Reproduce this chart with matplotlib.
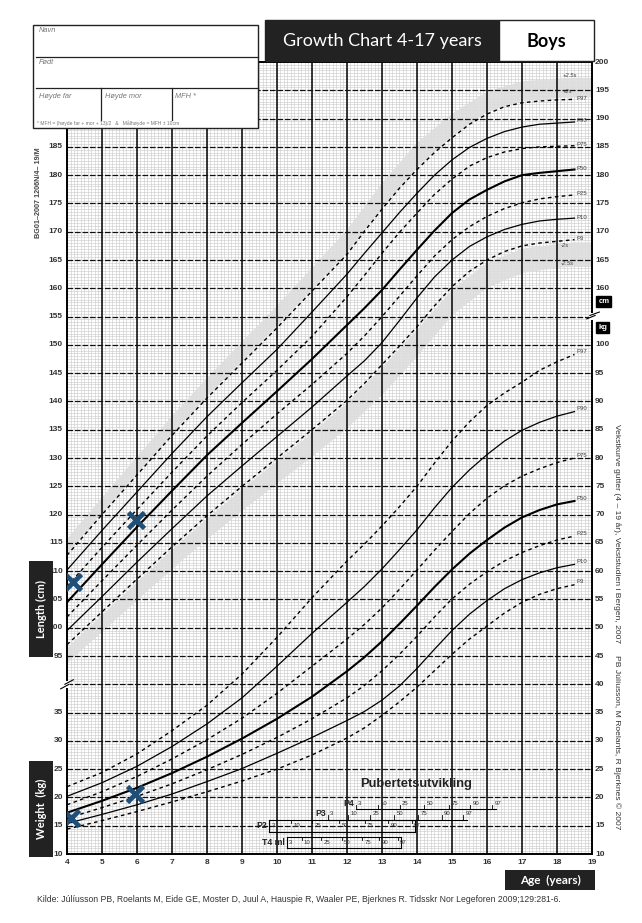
import numpy as np
import matplotlib
matplotlib.use("Agg")
import matplotlib.pyplot as plt
from matplotlib.patches import Rectangle
import matplotlib.transforms as mtransforms

# ---------------- data ----------------
ages = [4, 5, 6, 7, 8, 9, 10, 11, 12, 12.5, 13, 13.5, 14, 14.5, 15, 15.5, 16, 16.5, 17, 17.5, 18, 18.5]

# height percentiles (cm)
h_p3 = [97.0, 102.8, 108.6, 114.3, 119.8, 125.0, 130.0, 135.0, 140.2, 143.2, 146.5, 149.8, 153.2, 156.9, 160.3, 163.0, 165.0, 166.5, 167.5, 168.0, 168.3, 168.6]
h_p10 = [99.5, 105.5, 111.6, 117.5, 123.3, 128.6, 133.8, 139.0, 144.5, 147.2, 150.4, 154.3, 158.3, 162.0, 165.0, 167.4, 169.1, 170.4, 171.3, 171.9, 172.2, 172.4]
h_p25 = [101.9, 108.3, 114.6, 120.8, 126.8, 132.4, 137.8, 143.0, 148.5, 151.6, 155.0, 158.6, 162.2, 165.7, 168.6, 170.9, 172.7, 174.1, 175.1, 175.8, 176.2, 176.5]
h_p50 = [104.5, 111.2, 117.8, 124.2, 130.5, 136.2, 141.8, 147.5, 153.5, 156.5, 159.7, 163.3, 166.8, 170.2, 173.3, 175.7, 177.4, 178.9, 180.0, 180.4, 180.7, 181.0]
h_p75 = [107.3, 114.2, 120.9, 127.5, 133.9, 139.8, 145.5, 151.5, 158.5, 162.3, 166.2, 169.9, 173.3, 176.6, 179.3, 181.6, 183.1, 184.1, 184.7, 185.0, 185.1, 185.2]
h_p90 = [110.2, 117.2, 124.0, 130.8, 137.3, 143.3, 149.2, 155.8, 162.5, 166.2, 169.8, 173.4, 176.8, 180.0, 182.7, 184.9, 186.5, 187.7, 188.5, 189.0, 189.2, 189.4]
h_p97 = [112.8, 120.0, 127.0, 134.0, 140.6, 146.8, 153.0, 159.5, 166.0, 170.1, 174.0, 177.7, 181.0, 184.0, 186.6, 189.0, 190.8, 192.1, 192.8, 193.1, 193.3, 193.4]

# SD bands (cm)
band_ages = [4, 5, 6, 7, 8, 9, 10, 11, 12, 13, 14, 15, 16, 17, 18, 18.5, 19]
up_lo = [113.2, 120.4, 127.4, 134.4, 141.0, 147.3, 153.5, 160.0, 166.5, 174.5, 181.5, 187.1, 191.3, 193.2, 193.7, 193.8, 193.8]
up_hi = [115.9, 123.2, 130.4, 137.6, 144.3, 150.7, 157.1, 163.8, 170.5, 178.8, 185.9, 191.0, 194.9, 196.7, 197.2, 197.3, 197.3]
lo_hi = [96.6, 102.4, 108.2, 113.9, 119.4, 124.6, 129.6, 134.6, 139.8, 146.1, 152.8, 159.9, 164.6, 167.1, 167.9, 168.2, 168.2]
lo_lo = [93.9, 99.4, 105.0, 110.5, 115.8, 120.8, 125.6, 130.4, 135.4, 141.3, 148.1, 155.4, 160.2, 162.8, 163.7, 164.0, 164.0]

# weight percentiles (kg)
w_p3 = [14.4, 15.9, 17.5, 19.2, 21.0, 22.9, 25.0, 27.5, 30.5, 32.3, 34.5, 36.9, 39.5, 42.4, 45.3, 48.0, 50.3, 52.6, 54.5, 55.9, 56.9, 57.6]
w_p10 = [15.4, 17.0, 18.7, 20.6, 22.8, 25.1, 27.8, 30.6, 33.6, 35.2, 37.2, 39.7, 42.8, 46.2, 49.5, 52.4, 54.8, 56.9, 58.5, 59.7, 60.6, 61.2]
w_p25 = [16.3, 18.2, 20.2, 22.4, 24.9, 27.6, 30.6, 33.9, 37.6, 39.8, 42.4, 45.3, 48.5, 51.9, 55.1, 57.7, 59.9, 61.8, 63.3, 64.5, 65.5, 66.2]
w_p50 = [17.3, 19.4, 21.7, 24.3, 27.2, 30.4, 33.9, 37.8, 42.3, 44.8, 47.6, 50.7, 53.9, 57.2, 60.3, 63.1, 65.5, 67.7, 69.5, 70.8, 71.8, 72.4]
w_p75 = [18.7, 21.0, 23.7, 26.8, 30.2, 34.0, 38.4, 43.2, 48.0, 50.6, 53.5, 56.8, 60.2, 63.7, 67.0, 70.2, 72.9, 75.1, 76.8, 78.1, 79.2, 80.0]
w_p90 = [20.2, 22.6, 25.5, 29.0, 33.0, 37.6, 43.2, 49.0, 54.5, 57.3, 60.4, 63.8, 67.3, 71.2, 74.8, 77.9, 80.6, 83.0, 84.9, 86.3, 87.4, 88.2]
w_p97 = [21.9, 24.4, 27.7, 31.8, 36.3, 41.8, 48.3, 55.3, 61.8, 64.8, 68.0, 71.4, 75.0, 79.1, 83.0, 86.4, 89.3, 91.5, 93.4, 95.5, 97.0, 98.3]

pct_names = ["P3", "P10", "P25", "P50", "P75", "P90", "P97"]

# measurements
meas_h_age = [4.18, 5.97]
meas_h_cm = [108.1, 119.1]
meas_w_age = [4.12, 5.95]
meas_w_kg = [16.3, 20.6]

# axis labels
x_labels = list(range(4, 20))
left_kg = [10, 15, 20, 25, 30, 35]
left_cm = [95, 100, 105, 110, 115, 120, 125, 130, 135, 140, 145, 150, 155, 160, 165, 170, 175, 180, 185]
right_kg = [10, 15, 20, 25, 30, 35, 40, 45, 50, 55, 60, 65, 70, 75, 80, 85, 90, 95, 100]
right_cm = [160, 165, 170, 175, 180, 185, 190, 195, 200]

# puberty development
pub_pcts = ["3", "10", "25", "50", "75", "90", "97"]
pub_P4 = [12.25, 12.88, 13.5, 14.2, 14.92, 15.52, 16.15]
pub_P3 = [11.45, 12.03, 12.65, 13.35, 14.02, 14.7, 15.32]
pub_P2 = [9.78, 10.4, 11.0, 11.78, 12.5, 13.17, 13.85]
pub_T4 = [10.28, 10.7, 11.27, 11.85, 12.42, 12.92, 13.45]

CM_OFFSET = 50  # length (cm) is drawn 50 units above weight (kg)

# ---------------- figure ----------------
W, H = 642, 923
fig = plt.figure(figsize=(W / 100, H / 100), dpi=100)
fig.patch.set_facecolor("white")

def fx(px):
    return px / W

def fy(py):
    return 1 - py / H

ax = fig.add_axes([fx(67), fy(854), fx(592) - fx(67), fy(62) - fy(854)])
ax.set_xlim(4, 19)
ax.set_ylim(10, 150)
ax.set_xticks([])
ax.set_yticks([])
for s in ax.spines.values():
    s.set_linewidth(1.4)
    s.set_color("black")
    s.set_zorder(6)

# minor grid
ax.vlines(np.arange(4, 19.0001, 0.1), 10, 150, colors="#c9c9c9", lw=0.4, zorder=1)
ax.hlines(np.arange(10, 150.0001, 0.5), 4, 19, colors="#c9c9c9", lw=0.4, zorder=1)

# SD bands
hcm = lambda arr: np.asarray(arr) - CM_OFFSET
ax.fill_between(band_ages, hcm(up_lo), hcm(up_hi), color="#dddddd", lw=0, alpha=0.9, zorder=1.5)
ax.fill_between(band_ages, hcm(lo_lo), hcm(lo_hi), color="#dddddd", lw=0, alpha=0.9, zorder=1.5)

# major grid
ax.vlines(np.arange(5, 19), 10, 150, colors="black", lw=1.1, zorder=2)
ax.hlines(np.arange(15, 150, 5), 4, 19, colors="#111111", lw=0.9, linestyles=(0, (4.5, 1.5)), zorder=2)

# curves
h_curves = [h_p3, h_p10, h_p25, h_p50, h_p75, h_p90, h_p97]
w_curves = [w_p3, w_p10, w_p25, w_p50, w_p75, w_p90, w_p97]
styles = {
    "P3": dict(ls=(0, (2.6, 2.4)), lw=1.0),
    "P10": dict(ls="-", lw=0.9),
    "P25": dict(ls=(0, (2.6, 2.4)), lw=1.0),
    "P50": dict(ls="-", lw=1.5),
    "P75": dict(ls=(0, (2.6, 2.4)), lw=1.0),
    "P90": dict(ls="-", lw=0.9),
    "P97": dict(ls=(0, (2.6, 2.4)), lw=1.0),
}
lab_kw = dict(fontsize=4.3, color="#444444", family="Liberation Sans", va="center", ha="left", zorder=7)
for name, hc, wc in zip(pct_names, h_curves, w_curves):
    ax.plot(ages, hcm(hc), color="black", zorder=4, **styles[name])
    ax.plot(ages, wc, color="black", zorder=4, **styles[name])
    ax.text(ages[-1] + 0.05, hc[-1] - CM_OFFSET + 0.2, name, **lab_kw)
    ax.text(ages[-1] + 0.05, wc[-1] + 0.5, name, **lab_kw)

# SD labels
sd_kw = dict(fontsize=4.2, color="#444444", family="Liberation Sans", style="italic", ha="left", va="center", zorder=7)
ax.text(18.15, up_hi[-2] - CM_OFFSET + 0.4, "+2.5s", **sd_kw)
ax.text(18.15, up_lo[-2] - CM_OFFSET + 0.9, "+2s", **sd_kw)
ax.text(18.1, lo_hi[-2] - CM_OFFSET - 0.7, "-2s", **sd_kw)
ax.text(18.1, lo_lo[-2] - CM_OFFSET + 0.3, "-2.5s", **sd_kw)

# measurements
ax.plot(meas_h_age, hcm(meas_h_cm), ls="none", marker="x", ms=12, mew=3.4, color="#1f4e79", zorder=8)
ax.plot(meas_w_age, meas_w_kg, ls="none", marker="x", ms=12, mew=3.4, color="#1f4e79", zorder=8)

# axis labels
tick_kw = dict(fontsize=6, color="#333333", family="Liberation Sans", weight="bold")
ytr = mtransforms.blended_transform_factory(ax.transAxes, ax.transData)
xtr = mtransforms.blended_transform_factory(ax.transData, ax.transAxes)
for v in left_kg:
    ax.text(-0.008, v, str(v), transform=ytr, ha="right", va="center", **tick_kw)
for v in left_cm:
    ax.text(-0.008, v - CM_OFFSET, str(v), transform=ytr, ha="right", va="center", **tick_kw)
for v in right_kg:
    ax.text(1.006, v, str(v), transform=ytr, ha="left", va="center", **tick_kw)
for v in right_cm:
    ax.text(1.006, v - CM_OFFSET, str(v), transform=ytr, ha="left", va="center", **tick_kw)
for v in x_labels:
    ax.text(v, -0.011, str(v), transform=xtr, ha="center", va="center", **tick_kw)

# cm / kg boxes on the right
ax.text(1.012, 107.6, "cm", transform=ytr, ha="left", va="center", color="white", fontsize=5.5,
        weight="bold", family="Liberation Sans",
        bbox=dict(boxstyle="square,pad=0.25", fc="black", ec="black"))
ax.text(1.012, 103.0, "kg", transform=ytr, ha="left", va="center", color="white", fontsize=5.5,
        weight="bold", family="Liberation Sans",
        bbox=dict(boxstyle="square,pad=0.25", fc="black", ec="black"))

# axis breaks
ax.add_patch(Rectangle((-0.006, 39.4), 0.012, 1.2, transform=ytr, fc="white", ec="none", zorder=9, clip_on=False))
ax.plot([-0.012, 0.004], [39.2, 40.0], transform=ytr, color="black", lw=0.8, clip_on=False, zorder=10)
ax.plot([-0.004, 0.012], [40.0, 40.8], transform=ytr, color="black", lw=0.8, clip_on=False, zorder=10)
ax.add_patch(Rectangle((0.994, 104.4), 0.012, 1.2, transform=ytr, fc="white", ec="none", zorder=9, clip_on=False))
ax.plot([0.99, 1.006], [104.6, 105.2], transform=ytr, color="black", lw=0.8, clip_on=False, zorder=10)
ax.plot([0.996, 1.014], [105.2, 105.8], transform=ytr, color="black", lw=0.8, clip_on=False, zorder=10)

# puberty development
pk = dict(fontsize=4.3, color="#333333", family="Liberation Sans", va="center", zorder=7)
ax.text(13.97, 22.3, "Pubertetsutvikling", fontsize=9.3, weight="bold", family="Liberation Sans",
        color="#222222", ha="center", va="center", zorder=7)

def pub_row(ticks, name, name_x, lab_y, line_ys, tick_dir):
    x0, x1 = ticks[0], ticks[-1] + 0.1
    for ly in line_ys:
        ax.plot([x0, x1], [ly, ly], color="black", lw=0.8, zorder=5)
    if len(line_ys) == 2:
        ax.plot([x0, x0], line_ys, color="black", lw=0.8, zorder=5)
        ax.plot([x1, x1], line_ys, color="black", lw=0.8, zorder=5)
    for t, lab in zip(ticks, pub_pcts):
        ax.plot([t, t], [line_ys[0], line_ys[0] + tick_dir], color="black", lw=0.6, zorder=5)
        ax.text(t + 0.07, lab_y, lab, ha="left", **pk)
    ax.text(name_x, lab_y, name, ha="right", fontsize=6.3, weight="bold", color="#222222",
            family="Liberation Sans", va="center", zorder=7)

pub_row(pub_P4, "P4", 12.2, 19.0, [17.9], 0.8)
pub_row(pub_P3, "P3", 11.4, 17.1, [16.05], 0.8)
pub_row(pub_P2, "P2", 9.72, 15.0, [16.05, 13.95], -0.6)
pub_row(pub_T4, "T4 ml", 10.22, 12.0, [13.05, 11.0], -0.6)

# ---------------- header / side texts ----------------
# info box
fig.add_artist(Rectangle((fx(33), fy(128)), fx(258) - fx(33), fy(25) - fy(128), transform=fig.transFigure,
                         fc="white", ec="#222222", lw=1.0, zorder=20))
for yy in (57, 88):
    fig.add_artist(plt.Line2D([fx(36), fx(258)], [fy(yy), fy(yy)], transform=fig.transFigure,
                              color="#222222", lw=0.9, zorder=21))
for xx in (101, 172):
    fig.add_artist(plt.Line2D([fx(xx), fx(xx)], [fy(88), fy(120)], transform=fig.transFigure,
                              color="#222222", lw=0.9, zorder=21))
ik = dict(fontsize=5.3, color="#777777", style="italic", family="Liberation Sans", zorder=22, va="center")
fig.text(fx(39), fy(31), "Navn", **ik)
fig.text(fx(39), fy(63), "Født", **ik)
fig.text(fx(39), fy(96), "Høyde far", **ik)
fig.text(fx(105), fy(96), "Høyde mor", **ik)
fig.text(fx(175), fy(96), "MFH *", **ik)
fig.text(fx(37), fy(123), "* MFH = (høyde far + mor + 13)/2   &   Målhøyde = MFH ± 10cm",
         fontsize=3.6, color="#777777", family="Liberation Sans", zorder=22, va="center")

# title boxes
fig.add_artist(Rectangle((fx(265), fy(61)), fx(499) - fx(265), fy(20) - fy(61), transform=fig.transFigure,
                         fc="#222222", ec="#222222", lw=1, zorder=20))
fig.add_artist(Rectangle((fx(499), fy(61)), fx(594) - fx(499), fy(20) - fy(61), transform=fig.transFigure,
                         fc="white", ec="#222222", lw=1, zorder=20))
fig.text(fx(382), fy(41), "Growth Chart 4-17 years", fontsize=13, color="white", family="Lato",
         ha="center", va="center", zorder=22)
fig.text(fx(546.5), fy(41), "Boys", fontsize=13, color="black", family="Lato", weight="bold",
         ha="center", va="center", zorder=22)

# side labels
def black_label(x0, y0, x1, y1, text, rot, fs):
    fig.add_artist(Rectangle((fx(x0), fy(y1)), fx(x1) - fx(x0), fy(y0) - fy(y1), transform=fig.transFigure,
                             fc="#222222", ec="none", zorder=20))
    fig.text(fx((x0 + x1) / 2), fy((y0 + y1) / 2), text, rotation=rot, color="white", fontsize=fs,
             weight="bold", family="Lato", ha="center", va="center", zorder=22)

black_label(29, 561, 53, 657, "Length (cm)", 90, 8)
black_label(29, 761, 53, 857, "Weight  (kg)", 90, 8)
black_label(505, 870, 595, 890, "Age  (years)", 0, 8.5)

fig.text(fx(39), fy(193), "BG01\u20132007 1206N/4\u2013 19/M", rotation=90, fontsize=5.2, color="#444444",
         weight="bold", family="Liberation Sans", ha="center", va="center")
fig.text(fx(617), fy(627),
         "Vekstkurve gutter (4 \u2013 19 år), Vekststudien i Bergen, 2007     PB Júlíusson, M Roelants, R Bjerknes © 2007",
         rotation=-90, fontsize=6.1, color="#333333", family="Liberation Sans", ha="center", va="center")
fig.text(fx(37), fy(900),
         "Kilde: Júlíusson PB, Roelants M, Eide GE, Moster D, Juul A, Hauspie R, Waaler PE, Bjerknes R. Tidsskr Nor Legeforen 2009;129:281-6.",
         fontsize=6.2, color="#333333", family="Liberation Sans", ha="left", va="center")

fig.savefig("out.png", dpi=100, facecolor="white")
